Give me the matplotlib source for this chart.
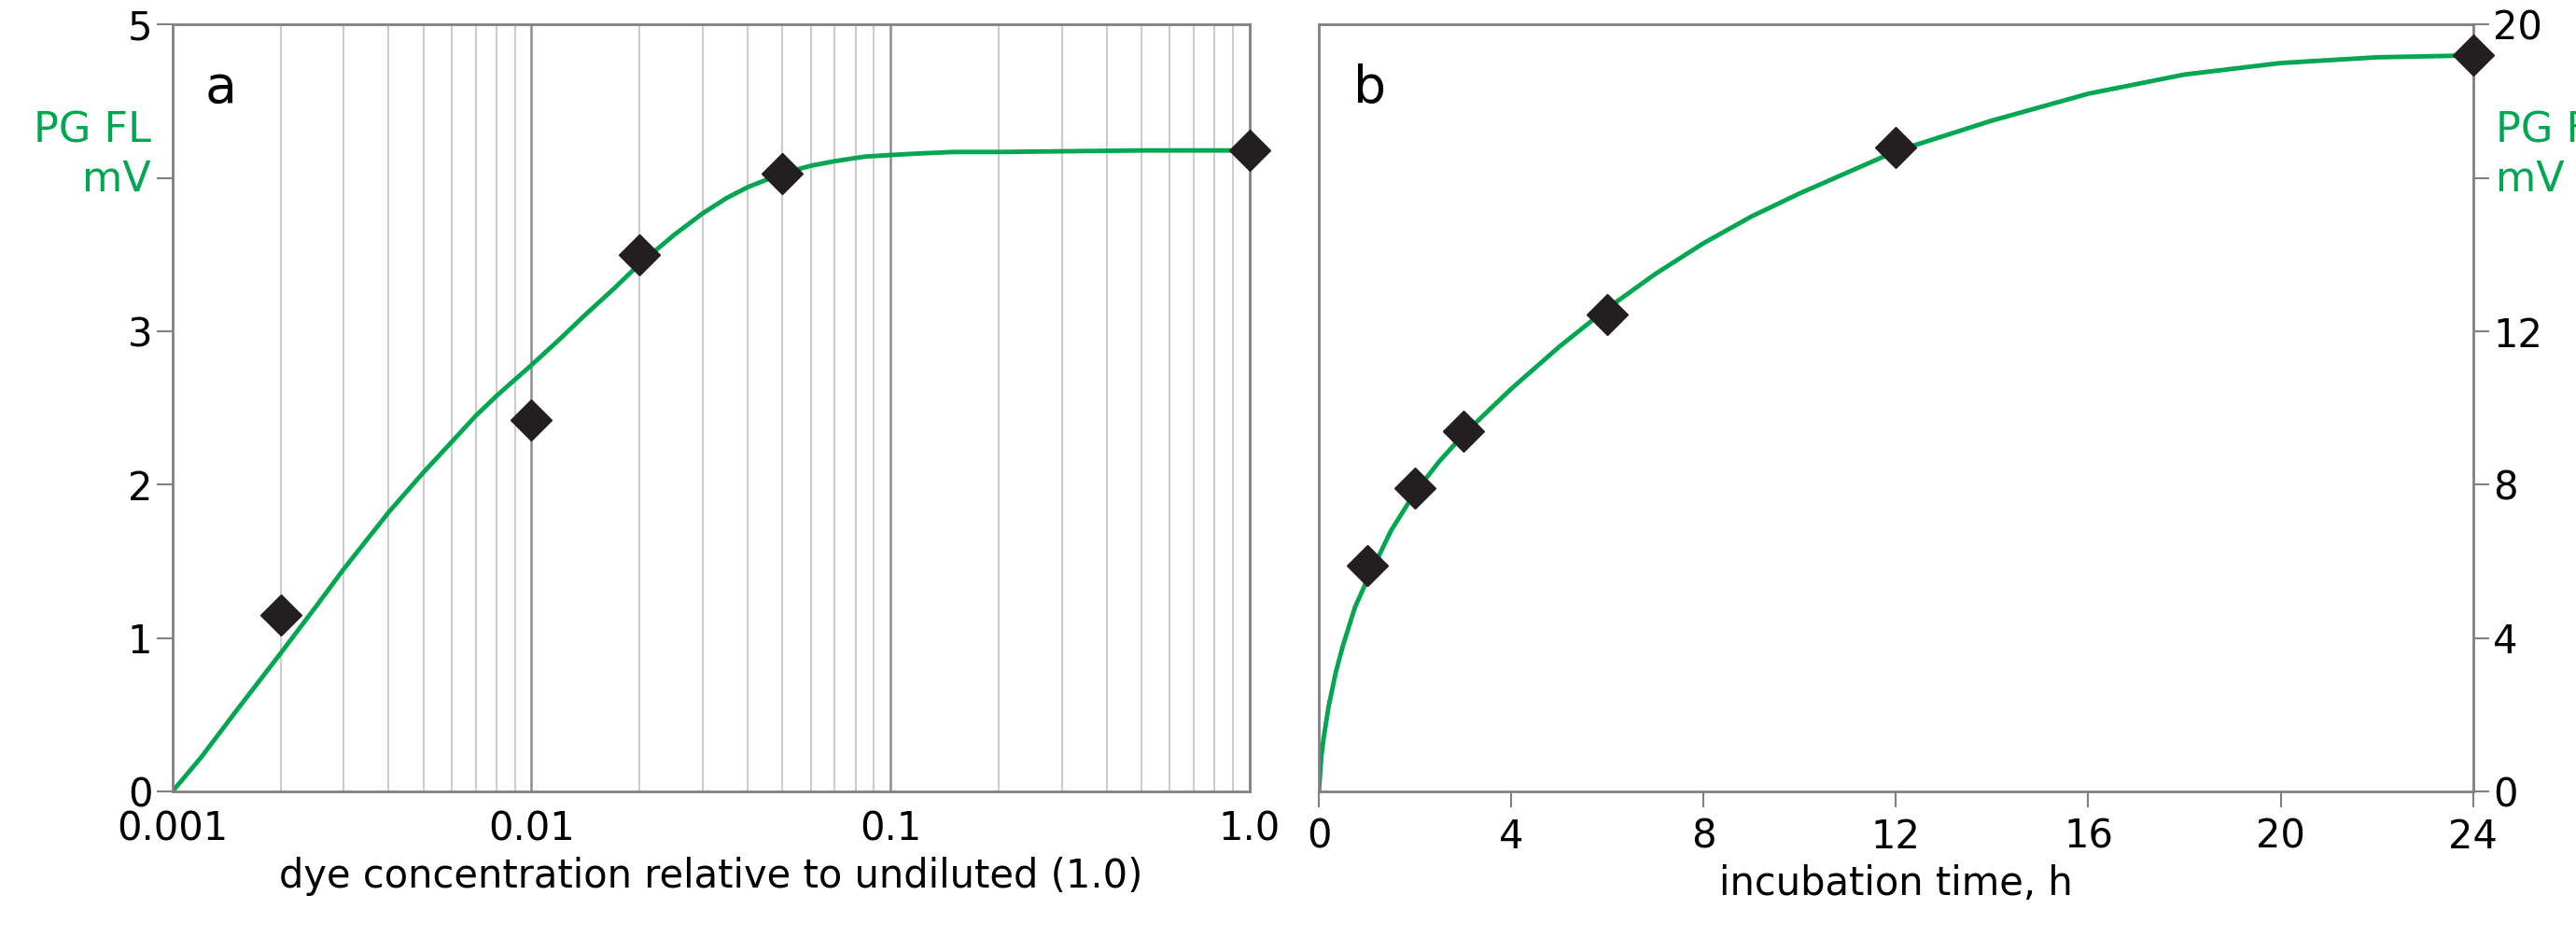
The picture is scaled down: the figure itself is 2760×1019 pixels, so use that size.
import matplotlib
matplotlib.use("Agg")
import matplotlib.pyplot as plt
from matplotlib.ticker import FixedLocator, NullFormatter

# Panel a data
a_x = [0.002, 0.01, 0.02, 0.05, 1.0]
a_y = [1.15, 2.42, 3.50, 4.03, 4.18]
a_curve_x = [0.001, 0.0012, 0.0015, 0.002, 0.0025, 0.003, 0.004, 0.005, 0.006, 0.007, 0.008, 0.01, 0.012, 0.014, 0.017, 0.02, 0.025, 0.03, 0.035, 0.04, 0.05, 0.06, 0.07, 0.085, 0.1, 0.12, 0.15, 0.2, 0.5, 1.0]
a_curve_y = [0.0, 0.22, 0.52, 0.90, 1.20, 1.45, 1.82, 2.08, 2.28, 2.45, 2.58, 2.78, 2.95, 3.10, 3.28, 3.44, 3.63, 3.77, 3.87, 3.94, 4.03, 4.08, 4.11, 4.14, 4.15, 4.16, 4.17, 4.17, 4.18, 4.18]
a_yticklabels = ["0", "1", "2", "3", "", "5"]

# Panel b data
b_x = [1, 2, 3, 6, 12, 24]
b_y = [5.9, 7.9, 9.4, 12.45, 16.8, 19.2]
b_curve_x = [0, 0.05, 0.1, 0.2, 0.35, 0.5, 0.75, 1, 1.5, 2, 2.5, 3, 4, 5, 6, 7, 8, 9, 10, 12, 14, 16, 18, 20, 22, 24]
b_curve_y = [0, 0.9, 1.4, 2.2, 3.1, 3.8, 4.8, 5.5, 6.8, 7.8, 8.6, 9.3, 10.5, 11.6, 12.6, 13.5, 14.3, 15.0, 15.6, 16.7, 17.5, 18.2, 18.7, 19.0, 19.15, 19.2]
b_yticklabels = ["0", "4", "8", "12", "", "20"]

green = "#00a650"
gray = "#808080"
fs = 30

fig = plt.figure(figsize=(27.6, 10.19), dpi=100)
ax1 = fig.add_axes([0.067, 0.168, 0.418, 0.806])
ax2 = fig.add_axes([0.512, 0.168, 0.448, 0.806])

# Panel a
ax1.set_xscale("log")
ax1.set_xlim(0.001, 1.0)
ax1.set_ylim(0, 5)
minors = [m * d for d in (0.001, 0.01, 0.1) for m in range(2, 10)]
for v in minors:
    ax1.axvline(v, color="#cccccc", lw=1.5, zorder=0)
for v in (0.01, 0.1):
    ax1.axvline(v, color="#8c8c8c", lw=1.8, zorder=0)
ax1.plot(a_curve_x, a_curve_y, color=green, lw=3.5, zorder=2)
ax1.plot(a_x, a_y, "D", color="#231f20", ms=22, zorder=3, clip_on=False)
ax1.xaxis.set_major_locator(FixedLocator([0.001, 0.01, 0.1, 1.0]))
ax1.set_xticklabels(["0.001", "0.01", "0.1", "1.0"])
ax1.xaxis.set_minor_formatter(NullFormatter())
ax1.tick_params(axis="x", which="both", length=0, labelsize=fs, pad=14)
ax1.set_yticks(range(6))
ax1.set_yticklabels(a_yticklabels)
ax1.tick_params(axis="y", length=12, width=1.5, color=gray, labelsize=fs)
ax1.set_xlabel("dye concentration relative to undiluted (1.0)", fontsize=fs, labelpad=6)
ax1.text(0.03, 0.95, "a", transform=ax1.transAxes, fontsize=40, va="top")
ax1.text(-0.02, 0.83, "PG FL\nmV", transform=ax1.transAxes, fontsize=fs + 2,
         color=green, ha="right", va="center", linespacing=1.3)

# Panel b
ax2.set_xlim(0, 24)
ax2.set_ylim(0, 20)
ax2.plot(b_curve_x, b_curve_y, color=green, lw=3.5, zorder=2)
ax2.plot(b_x, b_y, "D", color="#231f20", ms=22, zorder=3, clip_on=False)
ax2.set_xticks(range(0, 25, 4))
ax2.set_yticks(range(0, 21, 4))
ax2.set_yticklabels(b_yticklabels)
ax2.yaxis.tick_right()
ax2.tick_params(axis="y", length=12, width=1.5, color=gray, labelsize=fs)
ax2.tick_params(axis="x", length=12, width=1.5, color=gray, labelsize=fs, pad=8)
ax2.set_xlabel("incubation time, h", fontsize=fs, labelpad=6)
ax2.text(0.03, 0.95, "b", transform=ax2.transAxes, fontsize=40, va="top")
ax2.text(1.02, 0.83, "PG FL\nmV", transform=ax2.transAxes, fontsize=fs + 2,
         color=green, ha="left", va="center", linespacing=1.3)

for ax in (ax1, ax2):
    for s in ax.spines.values():
        s.set_color(gray)
        s.set_linewidth(2)

fig.savefig("out.png", dpi=100)
